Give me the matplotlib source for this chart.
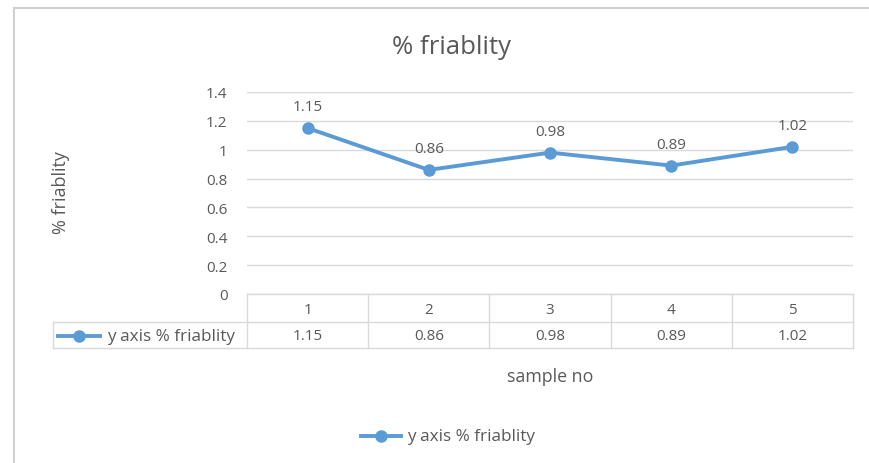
import matplotlib
matplotlib.use("Agg")
import matplotlib.pyplot as plt
from matplotlib.lines import Line2D
from matplotlib.transforms import blended_transform_factory

samples = ["1", "2", "3", "4", "5"]
friability = [1.15, 0.86, 0.98, 0.89, 1.02]
yticks = [0, 0.2, 0.4, 0.6, 0.8, 1, 1.2, 1.4]
ytick_labels = ["0", "0.2", "0.4", "0.6", "0.8", "1", "1.2", "1.4"]
series_name = "y axis % friablity"

plt.rcParams['font.family'] = ['Open Sans', 'DejaVu Sans']
W, H = 869, 464
fig = plt.figure(figsize=(W / 100, H / 100), dpi=100)
fig.patch.set_facecolor("white")

def fx(px):
    return px / W

def fy(py):
    return 1 - py / H

TXT = "#595959"
GRID = "#D9D9D9"
BLUE = "#5B9BD5"
NUM = 11

# outer frame (left & top edges)
fig.add_artist(Line2D([fx(14), fx(14)], [fy(9), 0], color="#D0D0D0", lw=1.5))
fig.add_artist(Line2D([fx(14), 1], [fy(9), fy(9)], color="#D0D0D0", lw=1.5))

left, right, top, bottom = 247, 853, 93, 295
ax = fig.add_axes([fx(left), fy(bottom), fx(right - left), (bottom - top) / H])
x = list(range(1, len(samples) + 1))
ax.plot(x, friability, color=BLUE, lw=2.8, marker="o", ms=8, zorder=3)
for xi, v in zip(x, friability):
    ax.annotate(f"{v:g}", (xi, v), xytext=(0, 10), textcoords="offset points",
                ha="center", va="bottom", fontsize=NUM, color=TXT)
ax.set_xlim(0.5, len(samples) + 0.5)
ax.set_ylim(0, 1.4)
ax.set_yticks(yticks)
ax.set_yticklabels(ytick_labels, fontsize=NUM, color=TXT)
ax.set_xticks([])
ax.tick_params(axis="y", length=0, pad=14)
ax.grid(axis="y", color=GRID, lw=1)
for s in ax.spines.values():
    s.set_visible(False)
ax.set_axisbelow(True)

# data table
trans = blended_transform_factory(ax.transData, fig.transFigure)
row1_top, row1_bot, row2_bot = 295, 323, 349
edges = [i + 0.5 for i in range(len(samples) + 1)]
for e in edges:
    ax.add_line(Line2D([e, e], [fy(row1_top), fy(row2_bot)], transform=trans,
                       color=GRID, lw=1, clip_on=False))
fig.add_artist(Line2D([fx(53), fx(853)], [fy(row1_bot), fy(row1_bot)], color=GRID, lw=1))
fig.add_artist(Line2D([fx(53), fx(853)], [fy(row2_bot), fy(row2_bot)], color=GRID, lw=1))
fig.add_artist(Line2D([fx(247), fx(853)], [fy(row1_top), fy(row1_top)], color=GRID, lw=1))
fig.add_artist(Line2D([fx(53), fx(53)], [fy(row1_bot), fy(row2_bot)], color=GRID, lw=1))
for xi, lab, v in zip(x, samples, friability):
    ax.text(xi, fy(310), lab, transform=trans,
            ha="center", va="center", fontsize=NUM, color=TXT)
    ax.text(xi, fy(337), f"{v:g}", transform=trans,
            ha="center", va="center", fontsize=NUM, color=TXT)
ymid = fy(337)
fig.add_artist(Line2D([fx(58), fx(100)], [ymid, ymid], color=BLUE, lw=2.8))
fig.add_artist(Line2D([fx(79)], [ymid], color=BLUE, marker="o", ms=8, lw=0))
fig.text(fx(107), ymid, series_name, ha="left", va="center", fontsize=12.3, color=TXT)

# axis titles
fig.text(fx(550), fy(377), "sample no", ha="center", va="center", fontsize=12.8, color=TXT)
fig.text(fx(61), fy(193), "% friablity", ha="center", va="center", rotation=90,
         fontsize=13, color=TXT)
fig.text(fx(451), fy(48), "% friablity", ha="center", va="center", fontsize=18.5, color=TXT)

# bottom legend
ly = fy(437)
fig.add_artist(Line2D([fx(361), fx(401)], [ly, ly], color=BLUE, lw=2.8))
fig.add_artist(Line2D([fx(381)], [ly], color=BLUE, marker="o", ms=8, lw=0))
fig.text(fx(407), ly, series_name, ha="left", va="center", fontsize=12.3, color=TXT)

fig.savefig("out.png", dpi=100, facecolor="white")
